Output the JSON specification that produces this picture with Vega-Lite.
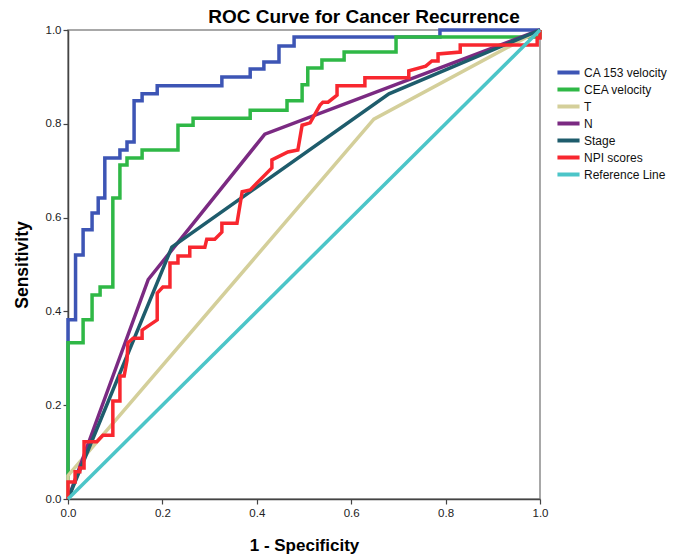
{
  "$schema": "https://vega.github.io/schema/vega-lite/v6.json",
  "width": 472,
  "height": 469,
  "autosize": "none",
  "padding": {"left": 68, "top": 30, "right": 134, "bottom": 58},
  "background": "white",
  "config": {
    "font": "Liberation Sans",
    "view": {"stroke": "#8c8c8c", "strokeWidth": 1.5},
    "axis": {"grid": false, "domainColor": "#444", "domainWidth": 1.5, "tickColor": "#444", "tickWidth": 1.2, "tickSize": 5, "labelFontSize": 11.5, "labelColor": "#222", "titleColor": "#000", "labelFont": "Liberation Sans", "titleFont": "Liberation Sans", "labelFlush": false}
  },
  "title": {"text": "ROC Curve for Cancer Recurrence", "fontSize": 19, "fontWeight": "bold", "font": "Liberation Sans", "anchor": "middle", "frame": "group", "dx": 60, "offset": 6, "dy": 29, "baseline": "bottom", "color": "#000"},
  "data": {"values": [
    {"s":"CA 153 velocity","i":0,"x":0,"y":0},
    {"s":"CA 153 velocity","i":1,"x":0,"y":0.382},
    {"s":"CA 153 velocity","i":2,"x":0.016,"y":0.382},
    {"s":"CA 153 velocity","i":3,"x":0.016,"y":0.52},
    {"s":"CA 153 velocity","i":4,"x":0.032,"y":0.52},
    {"s":"CA 153 velocity","i":5,"x":0.032,"y":0.574},
    {"s":"CA 153 velocity","i":6,"x":0.051,"y":0.574},
    {"s":"CA 153 velocity","i":7,"x":0.051,"y":0.61},
    {"s":"CA 153 velocity","i":8,"x":0.064,"y":0.61},
    {"s":"CA 153 velocity","i":9,"x":0.064,"y":0.642},
    {"s":"CA 153 velocity","i":10,"x":0.078,"y":0.642},
    {"s":"CA 153 velocity","i":11,"x":0.078,"y":0.727},
    {"s":"CA 153 velocity","i":12,"x":0.110,"y":0.727},
    {"s":"CA 153 velocity","i":13,"x":0.110,"y":0.744},
    {"s":"CA 153 velocity","i":14,"x":0.125,"y":0.744},
    {"s":"CA 153 velocity","i":15,"x":0.125,"y":0.761},
    {"s":"CA 153 velocity","i":16,"x":0.140,"y":0.761},
    {"s":"CA 153 velocity","i":17,"x":0.140,"y":0.849},
    {"s":"CA 153 velocity","i":18,"x":0.157,"y":0.849},
    {"s":"CA 153 velocity","i":19,"x":0.157,"y":0.864},
    {"s":"CA 153 velocity","i":20,"x":0.189,"y":0.864},
    {"s":"CA 153 velocity","i":21,"x":0.189,"y":0.881},
    {"s":"CA 153 velocity","i":22,"x":0.326,"y":0.881},
    {"s":"CA 153 velocity","i":23,"x":0.326,"y":0.9},
    {"s":"CA 153 velocity","i":24,"x":0.386,"y":0.9},
    {"s":"CA 153 velocity","i":25,"x":0.386,"y":0.917},
    {"s":"CA 153 velocity","i":26,"x":0.415,"y":0.917},
    {"s":"CA 153 velocity","i":27,"x":0.415,"y":0.932},
    {"s":"CA 153 velocity","i":28,"x":0.447,"y":0.932},
    {"s":"CA 153 velocity","i":29,"x":0.447,"y":0.966},
    {"s":"CA 153 velocity","i":30,"x":0.479,"y":0.966},
    {"s":"CA 153 velocity","i":31,"x":0.479,"y":0.985},
    {"s":"CA 153 velocity","i":32,"x":0.788,"y":0.985},
    {"s":"CA 153 velocity","i":33,"x":0.788,"y":1},
    {"s":"CA 153 velocity","i":34,"x":1,"y":1},
    {"s":"CEA velocity","i":0,"x":0,"y":0},
    {"s":"CEA velocity","i":1,"x":0,"y":0.333},
    {"s":"CEA velocity","i":2,"x":0.032,"y":0.333},
    {"s":"CEA velocity","i":3,"x":0.032,"y":0.382},
    {"s":"CEA velocity","i":4,"x":0.051,"y":0.382},
    {"s":"CEA velocity","i":5,"x":0.051,"y":0.435},
    {"s":"CEA velocity","i":6,"x":0.068,"y":0.435},
    {"s":"CEA velocity","i":7,"x":0.068,"y":0.452},
    {"s":"CEA velocity","i":8,"x":0.095,"y":0.452},
    {"s":"CEA velocity","i":9,"x":0.095,"y":0.642},
    {"s":"CEA velocity","i":10,"x":0.110,"y":0.642},
    {"s":"CEA velocity","i":11,"x":0.110,"y":0.712},
    {"s":"CEA velocity","i":12,"x":0.125,"y":0.712},
    {"s":"CEA velocity","i":13,"x":0.125,"y":0.727},
    {"s":"CEA velocity","i":14,"x":0.157,"y":0.727},
    {"s":"CEA velocity","i":15,"x":0.157,"y":0.744},
    {"s":"CEA velocity","i":16,"x":0.233,"y":0.744},
    {"s":"CEA velocity","i":17,"x":0.233,"y":0.797},
    {"s":"CEA velocity","i":18,"x":0.265,"y":0.797},
    {"s":"CEA velocity","i":19,"x":0.265,"y":0.812},
    {"s":"CEA velocity","i":20,"x":0.386,"y":0.812},
    {"s":"CEA velocity","i":21,"x":0.386,"y":0.829},
    {"s":"CEA velocity","i":22,"x":0.464,"y":0.829},
    {"s":"CEA velocity","i":23,"x":0.464,"y":0.849},
    {"s":"CEA velocity","i":24,"x":0.496,"y":0.849},
    {"s":"CEA velocity","i":25,"x":0.496,"y":0.883},
    {"s":"CEA velocity","i":26,"x":0.508,"y":0.883},
    {"s":"CEA velocity","i":27,"x":0.508,"y":0.919},
    {"s":"CEA velocity","i":28,"x":0.538,"y":0.919},
    {"s":"CEA velocity","i":29,"x":0.538,"y":0.936},
    {"s":"CEA velocity","i":30,"x":0.585,"y":0.936},
    {"s":"CEA velocity","i":31,"x":0.585,"y":0.953},
    {"s":"CEA velocity","i":32,"x":0.695,"y":0.953},
    {"s":"CEA velocity","i":33,"x":0.695,"y":0.985},
    {"s":"CEA velocity","i":34,"x":1,"y":0.985},
    {"s":"CEA velocity","i":35,"x":1,"y":1},
    {"s":"T","i":0,"x":0,"y":0},
    {"s":"T","i":1,"x":0,"y":0.05},
    {"s":"T","i":2,"x":0.648,"y":0.81},
    {"s":"T","i":3,"x":1,"y":1},
    {"s":"N","i":0,"x":0,"y":0},
    {"s":"N","i":1,"x":0.17,"y":0.468},
    {"s":"N","i":2,"x":0.417,"y":0.778},
    {"s":"N","i":3,"x":1,"y":1},
    {"s":"Stage","i":0,"x":0,"y":0},
    {"s":"Stage","i":1,"x":0.22,"y":0.537},
    {"s":"Stage","i":2,"x":0.68,"y":0.864},
    {"s":"Stage","i":3,"x":1,"y":1},
    {"s":"NPI scores","i":0,"x":0,"y":0},
    {"s":"NPI scores","i":1,"x":0,"y":0.036},
    {"s":"NPI scores","i":2,"x":0.015,"y":0.036},
    {"s":"NPI scores","i":3,"x":0.015,"y":0.058},
    {"s":"NPI scores","i":4,"x":0.025,"y":0.058},
    {"s":"NPI scores","i":5,"x":0.025,"y":0.066},
    {"s":"NPI scores","i":6,"x":0.034,"y":0.066},
    {"s":"NPI scores","i":7,"x":0.034,"y":0.122},
    {"s":"NPI scores","i":8,"x":0.061,"y":0.122},
    {"s":"NPI scores","i":9,"x":0.074,"y":0.136},
    {"s":"NPI scores","i":10,"x":0.095,"y":0.136},
    {"s":"NPI scores","i":11,"x":0.095,"y":0.209},
    {"s":"NPI scores","i":12,"x":0.110,"y":0.209},
    {"s":"NPI scores","i":13,"x":0.110,"y":0.262},
    {"s":"NPI scores","i":14,"x":0.119,"y":0.262},
    {"s":"NPI scores","i":15,"x":0.125,"y":0.296},
    {"s":"NPI scores","i":16,"x":0.127,"y":0.333},
    {"s":"NPI scores","i":17,"x":0.138,"y":0.343},
    {"s":"NPI scores","i":18,"x":0.157,"y":0.343},
    {"s":"NPI scores","i":19,"x":0.157,"y":0.360},
    {"s":"NPI scores","i":20,"x":0.189,"y":0.382},
    {"s":"NPI scores","i":21,"x":0.189,"y":0.439},
    {"s":"NPI scores","i":22,"x":0.201,"y":0.452},
    {"s":"NPI scores","i":23,"x":0.216,"y":0.452},
    {"s":"NPI scores","i":24,"x":0.216,"y":0.503},
    {"s":"NPI scores","i":25,"x":0.233,"y":0.503},
    {"s":"NPI scores","i":26,"x":0.233,"y":0.518},
    {"s":"NPI scores","i":27,"x":0.258,"y":0.518},
    {"s":"NPI scores","i":28,"x":0.258,"y":0.537},
    {"s":"NPI scores","i":29,"x":0.290,"y":0.537},
    {"s":"NPI scores","i":30,"x":0.294,"y":0.554},
    {"s":"NPI scores","i":31,"x":0.311,"y":0.554},
    {"s":"NPI scores","i":32,"x":0.326,"y":0.569},
    {"s":"NPI scores","i":33,"x":0.326,"y":0.588},
    {"s":"NPI scores","i":34,"x":0.358,"y":0.588},
    {"s":"NPI scores","i":35,"x":0.369,"y":0.655},
    {"s":"NPI scores","i":36,"x":0.386,"y":0.659},
    {"s":"NPI scores","i":37,"x":0.432,"y":0.706},
    {"s":"NPI scores","i":38,"x":0.432,"y":0.723},
    {"s":"NPI scores","i":39,"x":0.466,"y":0.740},
    {"s":"NPI scores","i":40,"x":0.487,"y":0.744},
    {"s":"NPI scores","i":41,"x":0.496,"y":0.797},
    {"s":"NPI scores","i":42,"x":0.513,"y":0.802},
    {"s":"NPI scores","i":43,"x":0.534,"y":0.840},
    {"s":"NPI scores","i":44,"x":0.540,"y":0.846},
    {"s":"NPI scores","i":45,"x":0.551,"y":0.846},
    {"s":"NPI scores","i":46,"x":0.570,"y":0.861},
    {"s":"NPI scores","i":47,"x":0.570,"y":0.881},
    {"s":"NPI scores","i":48,"x":0.629,"y":0.881},
    {"s":"NPI scores","i":49,"x":0.629,"y":0.898},
    {"s":"NPI scores","i":50,"x":0.722,"y":0.898},
    {"s":"NPI scores","i":51,"x":0.722,"y":0.913},
    {"s":"NPI scores","i":52,"x":0.758,"y":0.923},
    {"s":"NPI scores","i":53,"x":0.771,"y":0.934},
    {"s":"NPI scores","i":54,"x":0.784,"y":0.934},
    {"s":"NPI scores","i":55,"x":0.784,"y":0.949},
    {"s":"NPI scores","i":56,"x":0.831,"y":0.953},
    {"s":"NPI scores","i":57,"x":0.831,"y":0.968},
    {"s":"NPI scores","i":58,"x":0.994,"y":0.968},
    {"s":"NPI scores","i":59,"x":0.994,"y":0.983},
    {"s":"NPI scores","i":60,"x":1,"y":0.983},
    {"s":"NPI scores","i":61,"x":1,"y":1},
    {"s":"Reference Line","i":0,"x":0,"y":0},
    {"s":"Reference Line","i":1,"x":1,"y":1}
  ]},
  "mark": {"type": "line", "strokeWidth": 3.5, "clip": false, "strokeJoin": "miter", "strokeCap": "butt"},
  "encoding": {
    "x": {"field": "x", "type": "quantitative", "scale": {"domain": [0, 1], "nice": false},
      "axis": {"title": "1 - Specificity", "values": [0, 0.2, 0.4, 0.6, 0.8, 1], "format": ".1f", "titleFontSize": 17, "titleFontWeight": "bold", "titleY": 46, "titleBaseline": "middle", "labelPadding": 3}},
    "y": {"field": "y", "type": "quantitative", "scale": {"domain": [0, 1], "nice": false},
      "axis": {"title": "Sensitivity", "values": [0, 0.2, 0.4, 0.6, 0.8, 1], "format": ".1f", "titleFontSize": 17.5, "titleFontWeight": "bold", "titleX": -46, "titleBaseline": "middle", "labelPadding": 2}},
    "color": {"field": "s", "type": "nominal",
      "scale": {"domain": ["CA 153 velocity", "CEA velocity", "T", "N", "Stage", "NPI scores", "Reference Line"],
        "range": ["#3d55b5", "#2fb846", "#d4cf9a", "#7b2a82", "#1e5c6c", "#f8272f", "#4cc5c8"]},
      "legend": {"title": null, "orient": "none", "legendX": 492, "legendY": 34, "symbolType": "M-1.7,0H1.7", "symbolSize": 169, "symbolStrokeWidth": 4, "labelFontSize": 12, "labelColor": "#111", "labelOffset": 7, "rowPadding": 0}},
    "order": {"field": "i", "type": "quantitative"}
  }
}
